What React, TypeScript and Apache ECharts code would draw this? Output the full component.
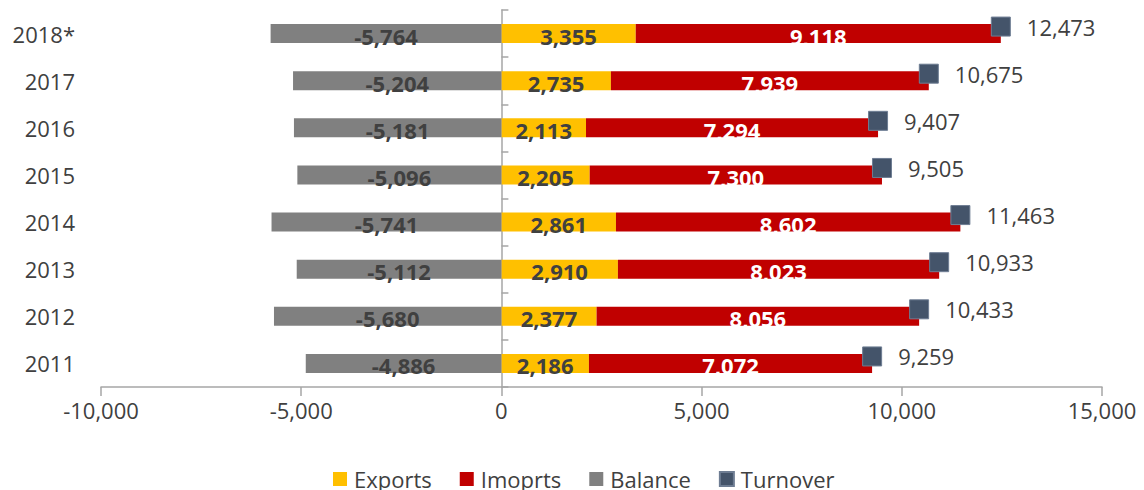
import React, { useEffect, useRef } from "react";
import * as echarts from "echarts";

const categories = ["2011", "2012", "2013", "2014", "2015", "2016", "2017", "2018*"];
const exportsData = [2186, 2377, 2910, 2861, 2205, 2113, 2735, 3355];
const importsData = [7072, 8056, 8023, 8602, 7300, 7294, 7939, 9118];
const balanceData = [-4886, -5680, -5112, -5741, -5096, -5181, -5204, -5764];
const turnoverData = [9259, 10433, 10933, 11463, 9505, 9407, 10675, 12473];
const xTicks = { min: -10000, max: 15000, interval: 5000 };

const FONT = "Open Sans";
const fmt = (v: number) => v.toLocaleString("en-US");

export default function App() {
  const ref = useRef<HTMLDivElement>(null);
  useEffect(() => {
    if (!ref.current) return;
    const chart = echarts.init(ref.current, null, { renderer: "svg" });
    const barLabel = (color: string) => ({
      show: true,
      position: "inside" as const,
      color,
      fontFamily: FONT,
      fontSize: 22,
      fontWeight: "bold" as const,
      offset: [0, 2],
      formatter: (p: any) => fmt(p.value),
    });
    chart.setOption({
      animation: false,
      textStyle: { fontFamily: FONT },
      grid: { left: 101, right: 42, top: 10, bottom: 103, containLabel: false },
      legend: {
        left: 328,
        top: 462,
        itemWidth: 14,
        itemHeight: 14,
        itemGap: 28,
        icon: "rect",
        textStyle: { fontFamily: FONT, fontSize: 22, lineHeight: 24, color: "#404040", padding: [0, 0, 0, 2] },
        data: ["Exports", "Imoprts", "Balance", "Turnover"],
      },
      xAxis: {
        type: "value",
        min: xTicks.min,
        max: xTicks.max,
        interval: xTicks.interval,
        splitLine: { show: false },
        axisLine: { show: true, onZero: false, lineStyle: { color: "#A6A6A6", width: 1.5 } },
        axisTick: { show: true, length: 9, lineStyle: { color: "#A6A6A6", width: 1.5 } },
        axisLabel: {
          color: "#404040",
          fontFamily: FONT,
          fontSize: 22,
          margin: 12,
          formatter: (v: number) => fmt(v),
        },
      },
      yAxis: [
        {
          type: "category",
          data: categories,
          axisLine: { show: false, onZero: false },
          axisTick: { show: false },
          axisLabel: { color: "#404040", fontFamily: FONT, fontSize: 22, margin: 26 },
        },
        {
          type: "category",
          data: categories,
          axisLine: { show: true, onZero: true, lineStyle: { color: "#A6A6A6", width: 1.5 } },
          axisTick: { show: true, length: 7, lineStyle: { color: "#A6A6A6", width: 1.5 } },
          axisLabel: { show: false },
        },
      ],
      series: [
        {
          name: "Exports",
          type: "bar",
          stack: "total",
          barWidth: 19,
          itemStyle: { color: "#FFC000" },
          label: barLabel("#404040"),
          data: exportsData,
        },
        {
          name: "Imoprts",
          type: "bar",
          stack: "total",
          barWidth: 19,
          itemStyle: { color: "#C00000" },
          label: barLabel("#FFFFFF"),
          data: importsData,
        },
        {
          name: "Balance",
          type: "bar",
          stack: "total",
          barWidth: 19,
          itemStyle: { color: "#808080" },
          label: barLabel("#404040"),
          data: balanceData,
        },
        {
          name: "Turnover",
          type: "scatter",
          symbol: "rect",
          symbolSize: 19,
          symbolOffset: [0, -7],
          itemStyle: { color: "#44546A", opacity: 1, borderColor: "#6E7D93", borderWidth: 1 },
          label: {
            show: true,
            position: "right",
            distance: 16,
            color: "#404040",
            fontFamily: FONT,
            fontSize: 22,
            formatter: (p: any) => fmt(p.value[0]),
          },
          z: 5,
          data: turnoverData.map((v, i) => [v, categories[i]]),
        },
      ],
    });
    return () => chart.dispose();
  }, []);
  return (
    <div
      ref={ref}
      style={{ position: "fixed", left: 0, top: 0, width: 1144, height: 490, background: "#fff" }}
    />
  );
}
